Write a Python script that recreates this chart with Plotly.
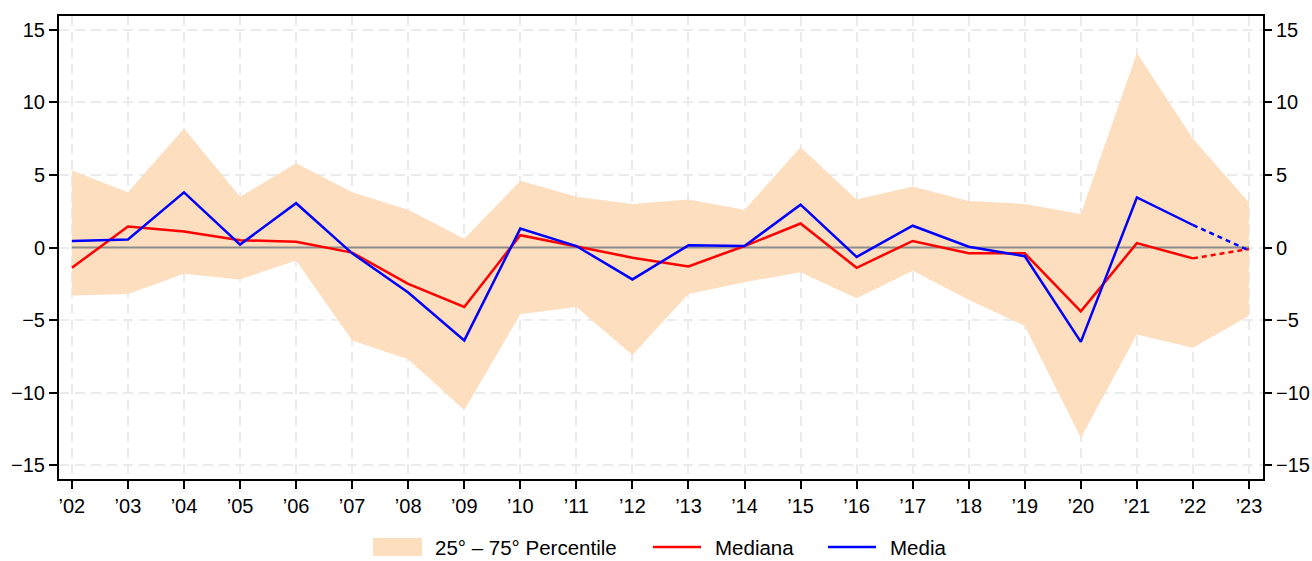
import plotly.graph_objects as go

years = ["’02", "’03", "’04", "’05", "’06", "’07", "’08", "’09", "’10", "’11", "’12",
         "’13", "’14", "’15", "’16", "’17", "’18", "’19", "’20", "’21", "’22", "’23"]
p75 = [5.3, 3.8, 8.2, 3.5, 5.8, 3.8, 2.6, 0.6, 4.6, 3.5, 3.0,
       3.3, 2.6, 6.9, 3.3, 4.2, 3.2, 3.0, 2.3, 13.4, 7.5, 3.1]
p25 = [-3.3, -3.2, -1.8, -2.2, -0.9, -6.4, -7.7, -11.2, -4.6, -4.1, -7.4,
       -3.2, -2.4, -1.7, -3.5, -1.6, -3.6, -5.4, -13.1, -6.0, -6.9, -4.7]
mediana = [-1.4, 1.45, 1.1, 0.5, 0.4, -0.35, -2.5, -4.1, 0.85, 0.1, -0.7,
           -1.3, 0.1, 1.65, -1.4, 0.45, -0.4, -0.4, -4.4, 0.3, -0.75, -0.1]
media = [0.45, 0.55, 3.8, 0.2, 3.05, -0.4, -3.1, -6.4, 1.3, 0.1, -2.2,
         0.15, 0.1, 2.95, -0.65, 1.5, 0.05, -0.6, -6.5, 3.45, 1.55, -0.2]
yticks = [-15, -10, -5, 0, 5, 10, 15]
legend_labels = ["25° – 75° Percentile", "Mediana", "Media"]

x = list(range(len(years)))
n_obs = len(years) - 1  # last point is an estimate (dotted)

band_color = "#FDDEBF"
red = "#ff0000"
blue = "#0000ff"

W, H = 1312, 561
ML, MR, MT, MB = 59, 49, 16, 82
PW, PH = W - ML - MR, H - MT - MB


def px(xp):
    return (xp - ML) / PW


def py(yp):
    return (H - MB - yp) / PH


fig = go.Figure()
fig.add_trace(go.Scatter(x=x, y=p25, mode="lines", line=dict(width=0, color=band_color),
                         showlegend=False, hoverinfo="skip"))
fig.add_trace(go.Scatter(x=x, y=p75, mode="lines", line=dict(width=0, color=band_color),
                         fill="tonexty", fillcolor=band_color, showlegend=False))
fig.add_trace(go.Scatter(x=[x[0], x[-1]], y=[0, 0], mode="lines",
                         line=dict(color="#8c8c8c", width=2), showlegend=False, hoverinfo="skip"))
fig.add_trace(go.Scatter(x=x[:n_obs], y=mediana[:n_obs], mode="lines",
                         line=dict(color=red, width=2.5), showlegend=False))
fig.add_trace(go.Scatter(x=x[n_obs - 1:], y=mediana[n_obs - 1:], mode="lines",
                         line=dict(color=red, width=2.5, dash="5px,4px"), showlegend=False))
fig.add_trace(go.Scatter(x=x[:n_obs], y=media[:n_obs], mode="lines",
                         line=dict(color=blue, width=2.5), showlegend=False))
fig.add_trace(go.Scatter(x=x[n_obs - 1:], y=media[n_obs - 1:], mode="lines",
                         line=dict(color=blue, width=2.5, dash="5px,4px"), showlegend=False))
# invisible trace to activate right axis
fig.add_trace(go.Scatter(x=[x[0]], y=[0], yaxis="y2", mode="markers",
                         marker=dict(opacity=0), showlegend=False, hoverinfo="skip"))

font = dict(family="Liberation Sans, Arial, sans-serif", size=18, color="#000")
grid = dict(showgrid=True, gridcolor="#ebebeb", gridwidth=1.5, griddash="10px,6px")
tick = dict(ticks="outside", ticklen=8, tickwidth=1.5, tickcolor="#000",
            tickfont=dict(size=20), automargin=False)

# custom legend (below plot)
LY = 547
shapes = [
    dict(type="rect", xref="paper", yref="paper", x0=px(373), x1=px(422), y0=py(LY + 9), y1=py(LY - 9),
         fillcolor=band_color, line=dict(width=0), layer="above"),
    dict(type="line", xref="paper", yref="paper", x0=px(653), x1=px(701), y0=py(LY), y1=py(LY),
         line=dict(color=red, width=2.5)),
    dict(type="line", xref="paper", yref="paper", x0=px(828), x1=px(876), y0=py(LY), y1=py(LY),
         line=dict(color=blue, width=2.5)),
]
annotations = [
    dict(text=legend_labels[i], xref="paper", yref="paper", x=px(xp), y=py(LY),
         xanchor="left", yanchor="middle", showarrow=False, borderpad=0,
         font=dict(size=20.5, color="#000"))
    for i, xp in enumerate([434, 714, 889])
]

fig.update_layout(
    width=W, height=H,
    margin=dict(l=ML, r=MR, t=MT, b=MB, autoexpand=False),
    plot_bgcolor="white", paper_bgcolor="white",
    font=font,
    xaxis=dict(range=[-0.23, len(years) - 1 + 0.25], tickmode="array", tickvals=x, ticktext=years,
               showline=True, linecolor="#000", linewidth=2, mirror=True,
               zeroline=False, **tick, **grid),
    yaxis=dict(range=[-15.95, 15.95], tickmode="array", tickvals=yticks,
               showline=True, linecolor="#000", linewidth=2, mirror=True,
               zeroline=False, **tick, **grid),
    yaxis2=dict(overlaying="y", side="right", matches="y", tickmode="array", tickvals=yticks,
                showgrid=False, zeroline=False, showline=False, **tick),
    shapes=shapes,
    annotations=annotations,
    showlegend=False,
)

fig.write_html("out.html", config={"displayModeBar": False},
               post_script="document.body.style.margin='0';")
